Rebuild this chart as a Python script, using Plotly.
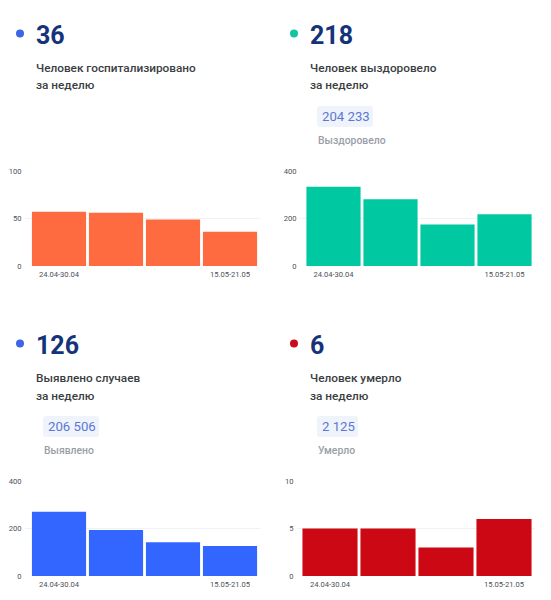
import plotly.graph_objects as go

W = 551
H = 600

# Weekly values
weeks = ["24.04-30.04", "01.05-07.05", "08.05-14.05", "15.05-21.05"]
week_labels = ["24.04-30.04", "", "", "15.05-21.05"]
hospitalized = [57, 56, 49, 36]
recovered = [334, 281, 175, 218]
detected = [271, 194, 142, 126]
deaths = [5, 5, 3, 6]

hospitalized_ticks = [0, 50, 100]
recovered_ticks = [0, 200, 400]
detected_ticks = [0, 200, 400]
deaths_ticks = [0, 5, 10]

big_numbers = ["36", "218", "126", "6"]
captions = ["Человек госпитализировано", "Человек выздоровело", "Выявлено случаев", "Человек умерло"]
caption_second_line = "за неделю"
totals = [None, "204 233", "206 506", "2 125"]
total_labels = [None, "Выздоровело", "Выявлено", "Умерло"]

bar_colors = ["#ff6b40", "#00c8a0", "#3366ff", "#cc0814"]
dot_colors = ["#3d65e8", "#12c4a2", "#3d65e8", "#c70f1c"]

# left edge of text, top of the block, grid left/right, bars left/right
panels = [
    dict(x=36, y=0, grid=(25, 260), bars=(30.5, 258.5)),
    dict(x=310, y=0, grid=(300, 535), bars=(305, 533)),
    dict(x=36, y=310, grid=(25, 260), bars=(30.5, 258.5)),
    dict(x=310, y=310, grid=(297, 535), bars=(301, 533)),
]
series = [hospitalized, recovered, detected, deaths]
ticks = [hospitalized_ticks, recovered_ticks, detected_ticks, deaths_ticks]


def px(x):
    return x / W


def py(y):
    return 1 - y / H


def rounded_rect(x0, y0, x1, y1, r):
    # the pill behind the totals, in paper coordinates
    return (
        f"M {px(x0 + r)} {py(y0)} L {px(x1 - r)} {py(y0)} Q {px(x1)} {py(y0)} {px(x1)} {py(y0 + r)} "
        f"L {px(x1)} {py(y1 - r)} Q {px(x1)} {py(y1)} {px(x1 - r)} {py(y1)} "
        f"L {px(x0 + r)} {py(y1)} Q {px(x0)} {py(y1)} {px(x0)} {py(y1 - r)} "
        f"L {px(x0)} {py(y0 + r)} Q {px(x0)} {py(y0)} {px(x0 + r)} {py(y0)} Z"
    )


fig = go.Figure()
annotations = []
shapes = []
axes = {}

for i, p in enumerate(panels):
    n = "" if i == 0 else str(i + 1)
    top = p["y"]
    x = p["x"]
    plot_top = top + 171
    plot_bottom = top + 266

    fig.add_trace(go.Bar(
        x=weeks,
        y=series[i],
        xaxis="x" + n,
        yaxis="y" + n,
        marker=dict(color=bar_colors[i], line=dict(width=0)),
        showlegend=False,
    ))

    gl, gr = p["grid"]
    bl, br = p["bars"]
    slot = (br - bl) / 4
    axes["xaxis" + n] = dict(
        domain=[px(gl), px(gr)],
        anchor="y" + n,
        type="category",
        range=[-0.5 - (bl - gl) / slot, 3.5 + (gr - br) / slot],
        tickmode="array",
        tickvals=weeks,
        ticktext=week_labels,
        tickangle=0,
        ticks="outside",
        ticklen=1,
        tickcolor="rgba(0,0,0,0)",
        tickfont=dict(family="Roboto", size=7.6, color="#4d5157"),
        showgrid=False,
        showline=False,
        zeroline=False,
    )
    axes["yaxis" + n] = dict(
        domain=[py(plot_bottom), py(plot_top)],
        anchor="x" + n,
        range=[0, ticks[i][-1]],
        tickmode="array",
        tickvals=ticks[i],
        ticks="outside",
        ticklen=1,
        tickcolor="rgba(0,0,0,0)",
        tickfont=dict(family="Roboto", size=7.6, color="#4d5157"),
        gridcolor="#f1f2f4",
        gridwidth=1,
        showline=False,
        zeroline=False,
    )

    # dot next to the big number
    cx = x - 16
    cy = top + 33.5
    shapes.append(dict(
        type="circle", xref="paper", yref="paper",
        x0=px(cx - 4), x1=px(cx + 4), y0=py(cy + 4), y1=py(cy - 4),
        fillcolor=dot_colors[i], line=dict(width=0),
    ))
    annotations.append(dict(
        text="<b>" + big_numbers[i] + "</b>",
        x=px(x - 1), y=py(top + 35), xanchor="left", yanchor="middle",
        font=dict(family="Roboto", size=25, color="#14337a"),
    ))
    annotations.append(dict(
        text=captions[i],
        x=px(x - 1), y=py(top + 68), xanchor="left", yanchor="middle",
        font=dict(family="Roboto", size=11.8, color="#3a3d42", weight=500),
    ))
    annotations.append(dict(
        text=caption_second_line,
        x=px(x - 1), y=py(top + 85.5), xanchor="left", yanchor="middle",
        font=dict(family="Roboto", size=11.8, color="#3a3d42", weight=500),
    ))

    if totals[i]:
        pill_w = 56 if len(totals[i]) > 5 else 41
        shapes.append(dict(
            type="path", xref="paper", yref="paper",
            path=rounded_rect(x + 7, top + 106, x + 7 + pill_w, top + 127, 3),
            fillcolor="#eff3fc", line=dict(width=0), layer="below",
        ))
        annotations.append(dict(
            text=totals[i],
            x=px(x + 10.5), y=py(top + 116.5), xanchor="left", yanchor="middle",
            font=dict(family="Roboto", size=13.2, color="#5b78d2"),
        ))
        annotations.append(dict(
            text=total_labels[i],
            x=px(x + 6.5), y=py(top + 140), xanchor="left", yanchor="middle",
            font=dict(family="Roboto", size=10.4, color="#9a9ea6", weight=500),
        ))

for a in annotations:
    a.update(xref="paper", yref="paper", showarrow=False, xshift=0, borderpad=0)

fig.update_layout(
    width=W,
    height=H,
    margin=dict(l=0, r=0, t=0, b=0, autoexpand=False),
    paper_bgcolor="white",
    plot_bgcolor="white",
    bargap=0.05,
    annotations=annotations,
    shapes=shapes,
    **axes,
)

fig.write_html("out.html", config={"displayModeBar": False},
               post_script="document.body.style.margin='0';")
